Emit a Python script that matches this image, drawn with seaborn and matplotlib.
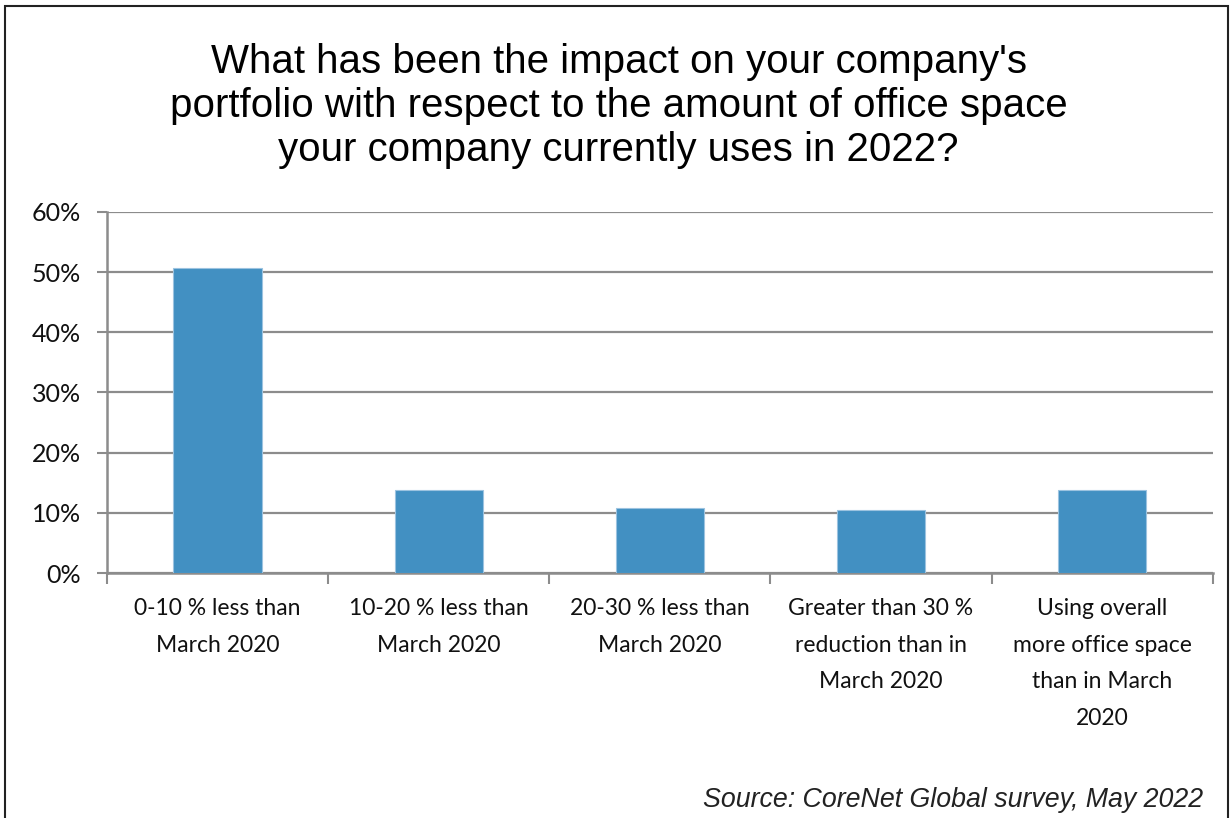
import matplotlib
matplotlib.use("Agg")
import matplotlib.pyplot as plt
import seaborn as sns
import pandas as pd
from matplotlib.patches import Rectangle

categories = [
    "0-10 % less than\nMarch 2020",
    "10-20 % less than\nMarch 2020",
    "20-30 % less than\nMarch 2020",
    "Greater than 30 %\nreduction than in\nMarch 2020",
    "Using overall\nmore office space\nthan in March\n2020",
]
values = [50.7, 13.8, 10.8, 10.4, 13.8]
yticks = [0, 10, 20, 30, 40, 50, 60]
ytick_labels = ["0%", "10%", "20%", "30%", "40%", "50%", "60%"]
title = "What has been the impact on your company's\nportfolio with respect to the amount of office space\nyour company currently uses in 2022?"
source = "Source: CoreNet Global survey, May 2022"

sns.set_theme(style="white")
plt.rcParams["font.family"] = ["Lato", "DejaVu Sans"]

df = pd.DataFrame({"cat": categories, "val": values})

fig = plt.figure(figsize=(12.3, 8.18), dpi=100)
ax = fig.add_axes([0.087, 0.2995, 0.899, 0.4415])
sns.barplot(data=df, x="cat", y="val", color="#4290C2", saturation=1,
            width=0.4, ax=ax, edgecolor="#9cc3e0", linewidth=0.8, zorder=3)

ax.set_ylim(0, 60)
ax.set_xlim(-0.5, len(categories) - 0.5)
ax.set_yticks(yticks)
ax.set_yticklabels(ytick_labels, fontsize=18, color="#111111")
ax.yaxis.grid(True, color="#8c8c8c", linewidth=1.6, zorder=0)
ax.set_axisbelow(True)
ax.set_xlabel("")
ax.set_ylabel("")
ax.set_xticks([i + 0.5 for i in range(-1, len(categories))], minor=False)
ax.set_xticklabels([])
ax.set_xticks(range(len(categories)), minor=True)
ax.set_xticklabels(categories, minor=True, fontsize=16.5, color="#111111", linespacing=1.92)
ax.tick_params(axis="x", which="major", length=8, width=1.5, color="#8c8c8c", direction="out", bottom=True)
ax.tick_params(axis="x", which="minor", length=0, pad=18)
ax.tick_params(axis="y", length=7, width=1.5, color="#8c8c8c", direction="out", left=True, pad=12)
for s in ["top", "right"]:
    ax.spines[s].set_visible(False)
for s in ["left", "bottom"]:
    ax.spines[s].set_color("#8c8c8c")
    ax.spines[s].set_linewidth(1.8)

for lab in ax.get_xticklabels(minor=True):
    lab.set_verticalalignment("top")

fig.text(0.503, 0.870, title, ha="center", va="center", fontsize=29,
         family=["Liberation Sans", "DejaVu Sans"], linespacing=1.2, color="#000000")
fig.text(0.978, 0.022, source, ha="right", va="center", fontsize=19.3, style="italic",
         family=["Liberation Sans Narrow", "Liberation Sans", "DejaVu Sans"], color="#222222")

fig.patches.append(Rectangle((0.004, -0.01), 0.994, 1.003, transform=fig.transFigure,
                             fill=False, edgecolor="#222222", linewidth=1.5))

fig.savefig("out.png", dpi=100)
